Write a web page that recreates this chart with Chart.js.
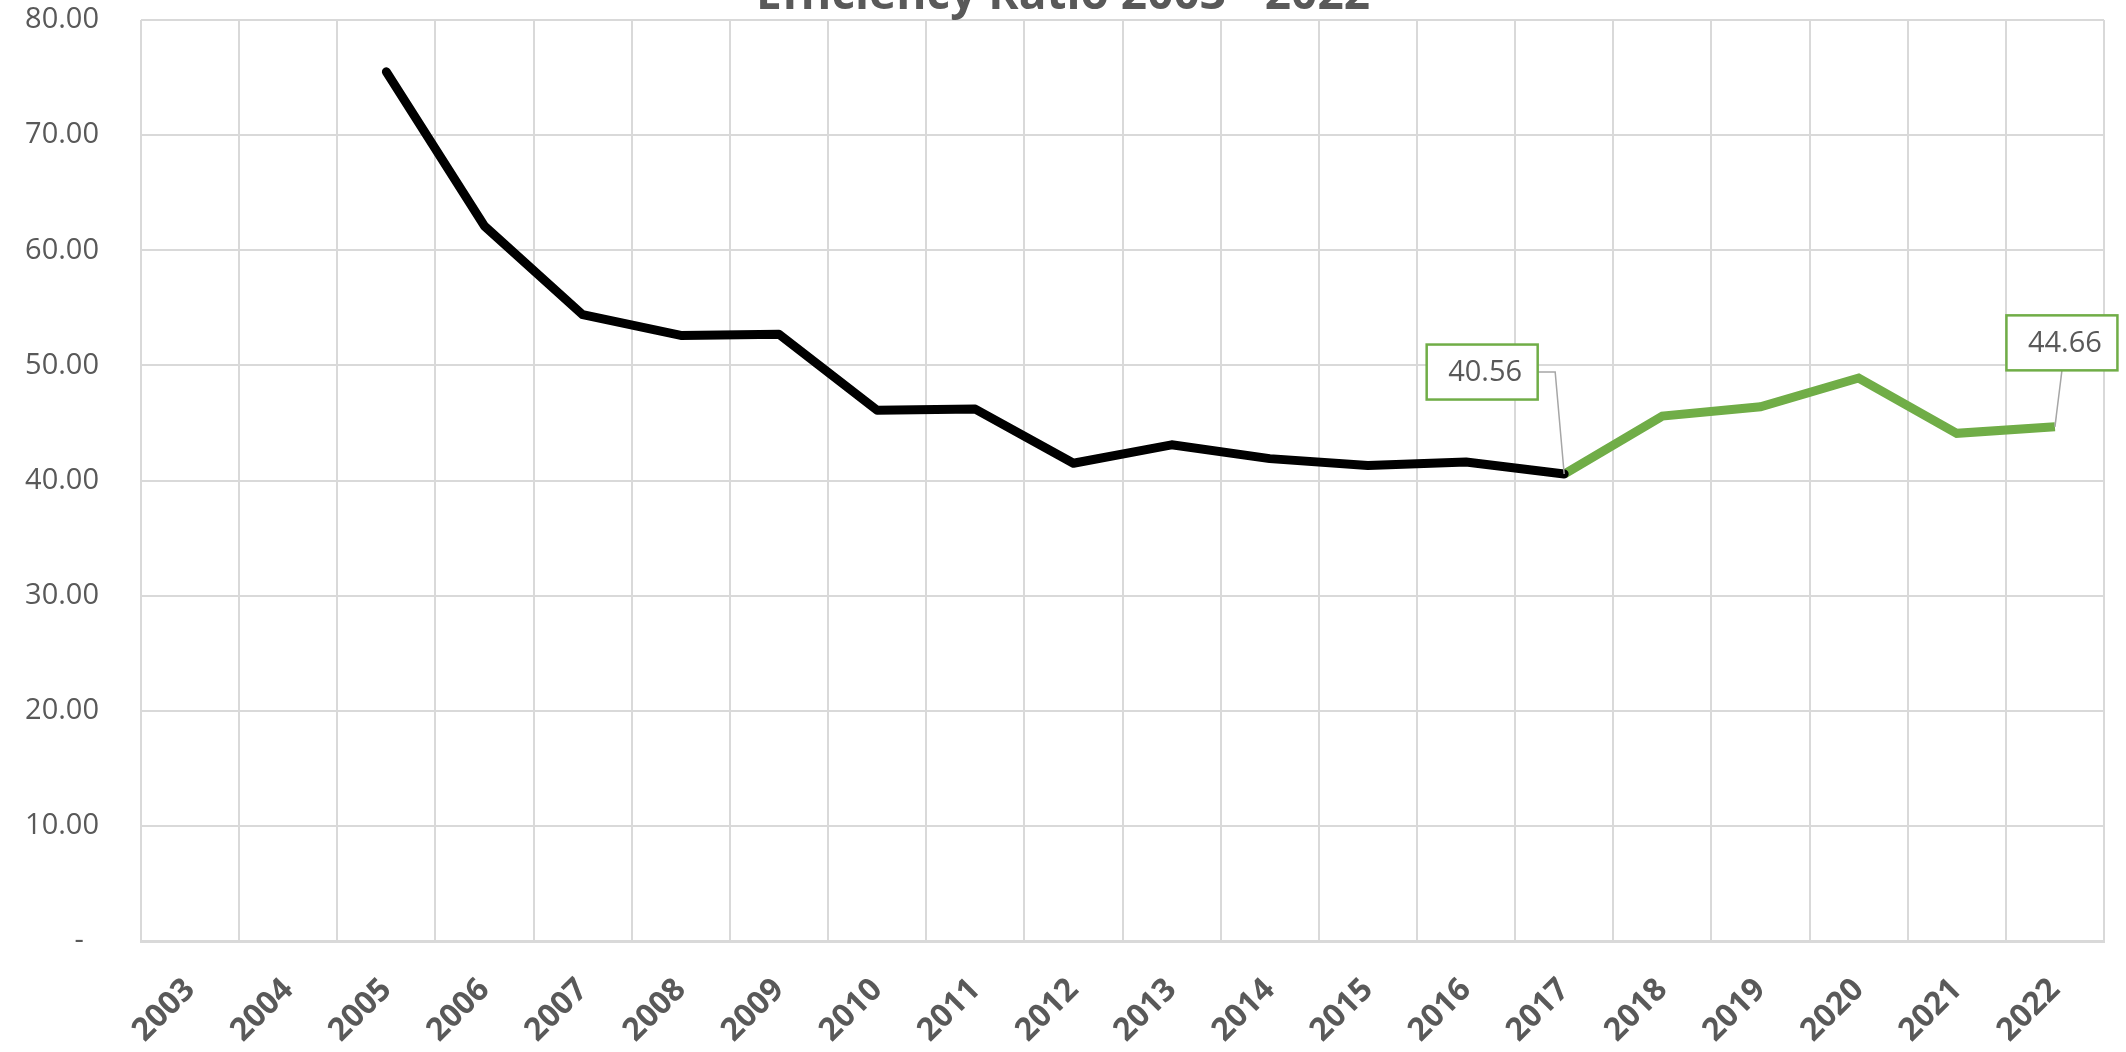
<!DOCTYPE html>
<html>
<head>
<meta charset="utf-8">
<title>Efficiency Ratio 2003 - 2022</title>
<script src="https://cdn.jsdelivr.net/npm/chart.js@4.4.1/dist/chart.umd.min.js"></script>
<style>
    html, body { margin: 0; padding: 0; background: #ffffff; }
    #wrap { width: 2126px; height: 1052px; }
</style>
</head>
<body>
<div id="wrap"><canvas id="ratioChart" width="2126" height="1052"></canvas></div>
<script>
// chart data
const chartTitle = 'Efficiency Ratio 2003 - 2022';
const years = ['2003', '2004', '2005', '2006', '2007', '2008', '2009', '2010', '2011', '2012',
               '2013', '2014', '2015', '2016', '2017', '2018', '2019', '2020', '2021', '2022'];
const ratioHistory = [null, null, 75.5, 62.1, 54.4, 52.6, 52.7, 46.1, 46.2, 41.5,
                      43.1, 41.9, 41.3, 41.6, 40.56, null, null, null, null, null];
const ratioRecent = [null, null, null, null, null, null, null, null, null, null,
                     null, null, null, null, 40.56, 45.6, 46.4, 48.9, 44.1, 44.66];
const labelledYears = ['2017', '2022'];
const yTicks = [0, 10, 20, 30, 40, 50, 60, 70, 80];

const gray = '#595959';
const gridColor = '#d9d9d9';
const green = '#70ad47';

// where each callout box sits relative to its point (dx, dy of box centre)
const calloutStyle = {
    '2017': { dx: -82, dy: -102, elbow: 'side' },
    '2022': { dx: 7, dy: -84, elbow: 'below' }
};

const titlePlugin = {
    id: 'cutTitle',
    afterDraw(chart) {
        const ctx = chart.ctx;
        ctx.save();
        ctx.font = 'bold 46px "Open Sans"';
        ctx.fillStyle = gray;
        ctx.textAlign = 'center';
        ctx.textBaseline = 'alphabetic';
        ctx.fillText(chartTitle, chart.width / 2, 9);
        ctx.restore();
    }
};

const calloutPlugin = {
    id: 'callouts',
    afterDatasetsDraw(chart) {
        const ctx = chart.ctx;
        const meta = chart.getDatasetMeta(1);
        const data = chart.data.datasets[1].data;
        const boxW = 111, boxH = 55;
        ctx.save();
        labelledYears.forEach(yr => {
            const i = years.indexOf(yr);
            const pt = meta.data[i];
            const st = calloutStyle[yr];
            const cx = pt.x + st.dx, cy = pt.y + st.dy;
            const left = cx - boxW / 2, top = cy - boxH / 2;

            // leader line
            ctx.strokeStyle = '#a6a6a6';
            ctx.lineWidth = 1.5;
            ctx.beginPath();
            ctx.moveTo(pt.x, pt.y);
            if (st.elbow === 'side') {
                ctx.lineTo(pt.x - 9, cy);
                ctx.lineTo(left + boxW, cy);
            } else {
                ctx.lineTo(cx, top + boxH);
            }
            ctx.stroke();

            // box
            ctx.fillStyle = '#ffffff';
            ctx.fillRect(left, top, boxW, boxH);
            ctx.strokeStyle = green;
            ctx.lineWidth = 2.5;
            ctx.strokeRect(left, top, boxW, boxH);

            ctx.fillStyle = gray;
            ctx.font = '29px "Open Sans"';
            ctx.textAlign = 'center';
            ctx.textBaseline = 'middle';
            ctx.fillText(data[i].toFixed(2), cx + 3, cy + 1);
        });
        ctx.restore();
    }
};

function drawChart() {
    const ctx = document.getElementById('ratioChart').getContext('2d');
    new Chart(ctx, {
        type: 'line',
        data: {
            labels: years,
            datasets: [
                {
                    label: 'Efficiency Ratio',
                    data: ratioHistory,
                    borderColor: '#000000',
                    borderWidth: 9,
                    borderCapStyle: 'round',
                    borderJoinStyle: 'round',
                    pointRadius: 0,
                    tension: 0,
                    fill: false
                },
                {
                    label: 'Efficiency Ratio (recent)',
                    data: ratioRecent,
                    borderColor: green,
                    borderWidth: 9,
                    pointRadius: 0,
                    tension: 0,
                    fill: false
                }
            ]
        },
        options: {
            responsive: false,
            animation: false,
            devicePixelRatio: 1,
            layout: { padding: { left: 0, right: 22, top: 0, bottom: 0 } },
            plugins: {
                legend: { display: false },
                title: { display: false },
                tooltip: { enabled: false }
            },
            scales: {
                x: {
                    offset: true,
                    grid: { offset: true, color: gridColor, lineWidth: 2, drawTicks: false },
                    border: { display: true, color: gridColor, width: 3 },
                    ticks: {
                        color: gray,
                        font: { family: 'Open Sans', size: 32, weight: 'bold' },
                        minRotation: 45,
                        maxRotation: 45,
                        autoSkip: false,
                        padding: 30
                    },
                    afterFit(scale) { scale.height = 111; }
                },
                y: {
                    min: 0,
                    max: 80,
                    afterBuildTicks(scale) { scale.ticks = yTicks.map(v => ({ value: v })); },
                    grid: { color: gridColor, lineWidth: 2, drawTicks: false },
                    border: { display: false },
                    ticks: {
                        color: gray,
                        font: { family: 'Open Sans', size: 29 },
                        padding: 42,
                        callback: v => v === 0 ? '-  ' : v.toFixed(2)
                    },
                    afterFit(scale) {
                        scale.width = 141;
                        // tick padding is horizontal here, keep it out of the top margin
                        scale.paddingTop = 20;
                        scale.paddingBottom = 0;
                    }
                }
            }
        },
        plugins: [titlePlugin, calloutPlugin]
    });
}

document.addEventListener('DOMContentLoaded', function() {
    Promise.all([
        document.fonts.load('29px "Open Sans"'),
        document.fonts.load('bold 29px "Open Sans"')
    ]).then(drawChart, drawChart);
});
</script>
</body>
</html>
